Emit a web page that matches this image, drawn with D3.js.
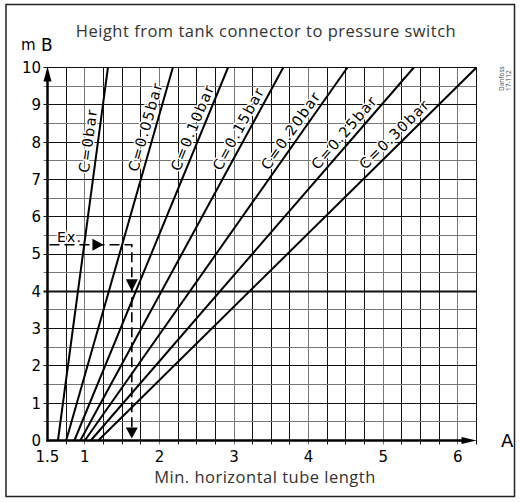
<!DOCTYPE html>
<html><head><meta charset="utf-8">
<script src="https://cdn.jsdelivr.net/npm/d3@7"></script>
<style>html,body{margin:0;padding:0;background:#fff;}</style>
</head><body>
<svg id="chart" width="520" height="502"></svg>
<script>
// ---- data ----
const seriesLabels = ["C=0bar","C=0.05bar","C=0.10bar","C=0.15bar","C=0.20bar","C=0.25bar","C=0.30bar"];
const lengthAtHeight0  = [0.64, 0.75, 0.86, 0.94, 1.00, 1.08, 1.18];
const lengthAtHeight10 = [1.31, 2.18, 2.92, 3.66, 4.52, 5.41, 6.25];
const xTickValues = [0.5, 1, 2, 3, 4, 5, 6];
const xTickLabels = ["1.5", "1", "2", "3", "4", "5", "6"];
const yTickValues = [0,1,2,3,4,5,6,7,8,9,10];
const exampleHeight = 5.25;
const exampleLength = 1.63;

const svg = d3.select("#chart");
const x = d3.scaleLinear().domain([0.5, 6.25]).range([47.5, 476.5]);
const y = d3.scaleLinear().domain([0, 10]).range([440.5, 67.5]);
const tickFont = "'DejaVu Sans', sans-serif";
const crisp = v => Math.round(v - 0.5) + 0.5;

// border
svg.append("rect").attr("x",6).attr("y",4.5).attr("width",508.5).attr("height",492)
  .attr("fill","none").attr("stroke","#222").attr("stroke-width",1.5);

// title
svg.append("text").attr("x",266).attr("y",37).attr("text-anchor","middle")
  .attr("font-family","'Open Sans', sans-serif").attr("font-size",16.5).attr("letter-spacing","0.5px").attr("fill","#333")
  .text("Height from tank connector to pressure switch");

// grid
const g = svg.append("g");
const vVals = d3.range(0.75, 6.26, 0.25);
g.selectAll("line.v").data(vVals).join("line")
  .attr("x1", d => crisp(x(d))).attr("x2", d => crisp(x(d)))
  .attr("y1", y(10)).attr("y2", y(0) + 4)
  .attr("stroke", d => Math.abs(d - Math.round(d)) < 1e-6 ? "#777" : "#111")
  .attr("stroke-width", 1);
const hVals = d3.range(0.5, 10.01, 0.5);
g.selectAll("line.h").data(hVals).join("line")
  .attr("x1", x(0.5) - 4).attr("x2", x(6.25))
  .attr("y1", d => crisp(y(d))).attr("y2", d => crisp(y(d)))
  .attr("stroke", d => Math.abs(d - Math.round(d)) < 1e-6 ? "#111" : "#777")
  .attr("stroke-width", d => d === 4 ? 2 : 1);

// series lines
const lines = seriesLabels.map((lab, i) => ({lab, a0: lengthAtHeight0[i], a10: lengthAtHeight10[i]}));
g.selectAll("line.s").data(lines).join("line")
  .attr("x1", d => x(d.a0)).attr("y1", y(0))
  .attr("x2", d => x(d.a10)).attr("y2", y(10))
  .attr("stroke", "#000").attr("stroke-width", 2);

// series labels: start of text near height 7.2, baseline parallel to line
const labelStartHeight = 7.15, baselineGap = 5;
lines.forEach(d => {
  const px0 = x(d.a0), py0 = y(0), px1 = x(d.a10), py1 = y(10);
  const dx = px1 - px0, dy = py1 - py0, len = Math.hypot(dx, dy);
  const ux = dx/len, uy = dy/len;
  const t = labelStartHeight / 10;
  const fx = px0 + t*dx, fy = py0 + t*dy;
  const nx = uy, ny = -ux; // upper-left normal
  const sx = fx + nx*baselineGap, sy = fy + ny*baselineGap;
  const ang = Math.atan2(dy, dx) * 180 / Math.PI;
  svg.append("text")
    .attr("transform", `translate(${sx},${sy}) rotate(${ang})`)
    .attr("text-anchor","start")
    .attr("font-family", tickFont).attr("font-size",14.5).attr("letter-spacing","1.5px")
    .attr("fill","#000").attr("stroke","#fff").attr("stroke-width",3)
    .attr("paint-order","stroke").attr("stroke-linejoin","round")
    .text(d.lab);
});

// axes
svg.append("line").attr("x1", x(0.5)).attr("x2", x(0.5)).attr("y1", y(0)+1).attr("y2", y(10)+12)
  .attr("stroke","#000").attr("stroke-width",2.5);
svg.append("path").attr("d", `M${x(0.5)},${y(10)-1} L${x(0.5)-4},${y(10)+14} L${x(0.5)+4},${y(10)+14} Z`).attr("fill","#000");
svg.append("line").attr("x1", x(0.5)-1).attr("x2", x(6.25)-12).attr("y1", y(0)).attr("y2", y(0))
  .attr("stroke","#000").attr("stroke-width",2.5);
svg.append("path").attr("d", `M${x(6.25)},${y(0)} L${x(6.25)-15},${y(0)-3.5} L${x(6.25)-15},${y(0)+3.5} Z`).attr("fill","#000");

// tick labels
svg.selectAll("text.xt").data(xTickValues).join("text")
  .attr("x", d => x(d)).attr("y", 462).attr("text-anchor","middle")
  .attr("font-family", tickFont).attr("font-size",15).attr("fill","#000")
  .text((d,i) => xTickLabels[i]);
svg.selectAll("text.yt").data(yTickValues).join("text")
  .attr("x", 41).attr("y", d => y(d)).attr("dy","0.36em").attr("text-anchor","end")
  .attr("font-family", tickFont).attr("font-size",15).attr("fill","#000")
  .text(d => d);

// axis names
svg.append("text").attr("x",21).attr("y",50).attr("font-family",tickFont).attr("font-size",15).text("m");
svg.append("text").attr("x",41).attr("y",51).attr("font-family",tickFont).attr("font-size",17).text("B");
svg.append("text").attr("x",501).attr("y",447).attr("font-family",tickFont).attr("font-size",18).text("A");
svg.append("text").attr("x",265).attr("y",483).attr("text-anchor","middle")
  .attr("font-family","'Open Sans', sans-serif").attr("font-size",16.5).attr("letter-spacing","0.5px").attr("fill","#333")
  .text("Min. horizontal tube length");

// Danfoss mark
const dm = svg.append("g").attr("font-family","'Open Sans', sans-serif").attr("font-size",6.5).attr("fill","#444");
dm.append("text").attr("transform","translate(504,91) rotate(-90)").text("Danfoss");
dm.append("text").attr("transform","translate(510.5,91) rotate(-90)").text("17-112");

// example
const ey = y(exampleHeight), ex = x(exampleLength);
svg.append("path").attr("d", `M${x(0.5)+2},${ey} H${ex} V${y(0)-6}`)
  .attr("fill","none").attr("stroke","#000").attr("stroke-width",1.6).attr("stroke-dasharray","10,5");
svg.append("text").attr("x",57).attr("y",ey-3).attr("font-family",tickFont).attr("font-size",14)
  .attr("letter-spacing","1.2px").attr("fill","#000").attr("stroke","#fff").attr("stroke-width",3)
  .attr("paint-order","stroke").text("Ex.");
const tipR = x(1.25);
svg.append("path").attr("d", `M${tipR},${ey} L${tipR-11},${ey-6} L${tipR-11},${ey+6} Z`).attr("fill","#000");
const tipD1 = y(4);
svg.append("path").attr("d", `M${ex},${tipD1} L${ex-6},${tipD1-12} L${ex+6},${tipD1-12} Z`).attr("fill","#000");
const tipD2 = y(0) - 2;
svg.append("path").attr("d", `M${ex},${tipD2} L${ex-6},${tipD2-11} L${ex+6},${tipD2-11} Z`).attr("fill","#000");
</script>
</body></html>
